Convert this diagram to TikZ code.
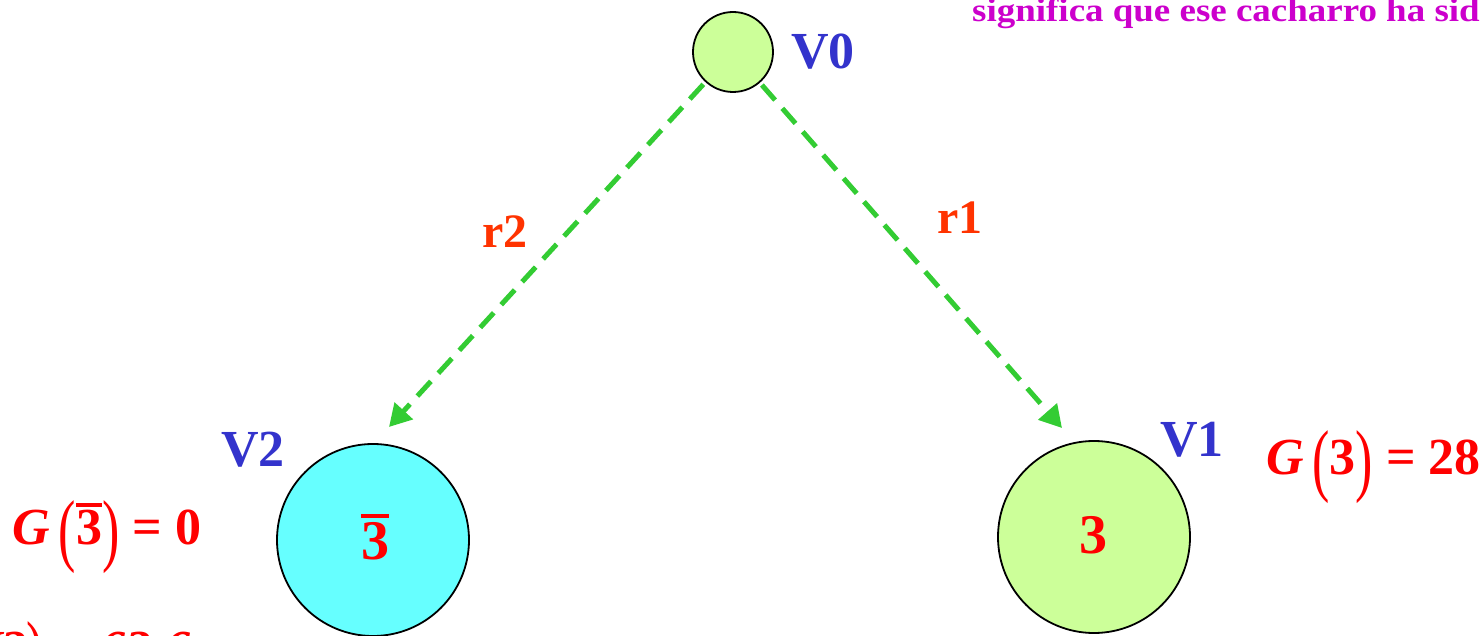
\documentclass[tikz,border=0pt]{standalone}
\usepackage{fontspec}
\setmainfont{Liberation Serif}
\usetikzlibrary{arrows.meta}
\definecolor{vblue}{HTML}{3333CC}
\definecolor{rorange}{HTML}{FF3300}
\definecolor{gred}{HTML}{FF0000}
\definecolor{edgegreen}{HTML}{33CC33}
\definecolor{softgreen}{HTML}{CCFF99}
\definecolor{softcyan}{HTML}{66FFFF}
\definecolor{notemagenta}{HTML}{CC00CC}
\tikzset{
  vertex/.style={circle, draw=black, line width=1.8pt, minimum size=192pt, inner sep=0pt},
  root/.style={vertex, minimum size=80pt, fill=softgreen},
  edge/.style={draw=edgegreen, line width=5pt, dash pattern=on 20pt off 11pt,
    shorten <=3pt, -{Triangle[length=22pt,width=24pt]}},
  vlabel/.style={text=vblue, inner sep=0pt, font=\bfseries\fontsize{52}{60}\selectfont},
  rlabel/.style={text=rorange, inner sep=0pt, font=\bfseries\fontsize{48}{56}\selectfont},
  gain/.style={text=gred, inner sep=0pt, font=\bfseries\fontsize{52}{60}\selectfont},
  note/.style={text=notemagenta, inner sep=0pt, font=\bfseries\fontsize{33}{38}\selectfont}
}
\newcommand{\barthree}{\leavevmode\vbox{\hrule height 3.5pt\kern 4pt\hbox{3}}}
\newcommand{\lpar}{\raisebox{-0.22em}{\scalebox{1}[1.55]{\mdseries(}}}
\newcommand{\rpar}{\raisebox{-0.22em}{\scalebox{1}[1.55]{\mdseries)}}}

\begin{document}
\begin{tikzpicture}[x=1pt, y=1pt]
  \clip (0,0) rectangle (1483,635);

  % vertices
  \node[root] (V0) at (733,583) {};
  \node[vertex, fill=softcyan] (V2) at (373,95) {};
  \node[vertex, fill=softgreen] (V1) at (1094,98) {};

  \node[vlabel] (V0lab) at (823,583) {V0};
  \node[vlabel] (V2lab) at (253,185) {V2};
  \node[vlabel] (V1lab) at (1192,195) {V1};

  \node[gain, font=\bfseries\fontsize{56}{64}\selectfont] (V2val) at (375,98) {\barthree};
  \node[gain, font=\bfseries\fontsize{56}{64}\selectfont] (V1val) at (1093,100) {3};

  % branches
  \coordinate (r2end) at (389,208);
  \coordinate (r1end) at (1062,207);
  \draw[edge] (V0) -- (r2end);
  \draw[edge] (V0) -- (r1end);
  \node[rlabel] (r2) at (505,403) {r2};
  \node[rlabel] (r1) at (960,417) {r1};

  % gains
  \node[gain] (g2) at (107,98) {\textit{G}\,\lpar\barthree\rpar\ = 0};
  \node[gain, anchor=west] (g1) at (1266,168) {\textit{G}\,\lpar 3\rpar\ = 28};
  \node[gain, anchor=base west] (gv2) at (-34,-31) {\textit{V2}\rpar\ = \textit{63.6}};

  \node[note, anchor=base west] (topnote) at (972,613) {\scalebox{1.12}[1]{significa que ese cacharro ha sid}};
\end{tikzpicture}
\end{document}
